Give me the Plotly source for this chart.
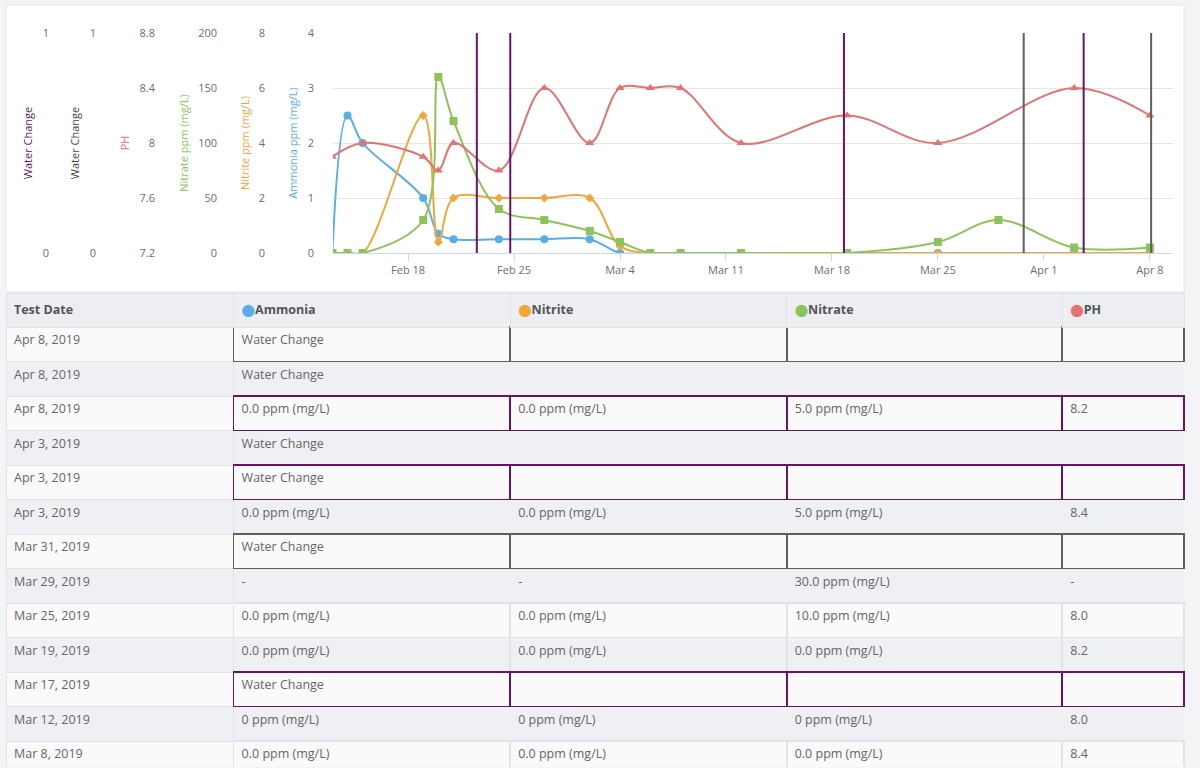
import plotly.graph_objects as go

# ---------------- data ----------------
test_dates = ['2019-02-13', '2019-02-14', '2019-02-15', '2019-02-19', '2019-02-20',
              '2019-02-21', '2019-02-24', '2019-02-27', '2019-03-02', '2019-03-04',
              '2019-03-06', '2019-03-08', '2019-03-12', '2019-03-19', '2019-03-25',
              '2019-03-29', '2019-04-03', '2019-04-08']
ammonia = [0, 2.5, 2.0, 1.0, 0.35, 0.25, 0.25, 0.25, 0.25, 0, 0, 0, 0, 0, 0, None, 0, 0]
nitrite = [0, 0, 0, 5.0, 0.4, 2.0, 2.0, 2.0, 2.0, 0.25, 0, 0, 0, 0, 0, None, 0, 0]
nitrate = [0, 0, 0, 30, 160, 120, 40, 30, 20, 10, 0, 0, 0, 0, 10, 30, 5, 5]
ph = [7.9, None, 8.0, 7.9, 7.8, 8.0, 7.8, 8.4, 8.0, 8.4, 8.4, 8.4, 8.0, 8.2, 8.0, None, 8.4, 8.2]

water_change_purple = ['2019-02-22 13:00', '2019-02-24 18:00', '2019-03-18 19:00', '2019-04-03 15:00']
water_change_grey = ['2019-03-30 16:00', '2019-04-08 02:00']

week_ticks = ['2019-02-18', '2019-02-25', '2019-03-04', '2019-03-11', '2019-03-18',
              '2019-03-25', '2019-04-01', '2019-04-08']

# table
tbl_dates = ['Apr 8, 2019', 'Apr 8, 2019', 'Apr 8, 2019', 'Apr 3, 2019', 'Apr 3, 2019',
             'Apr 3, 2019', 'Mar 31, 2019', 'Mar 29, 2019', 'Mar 25, 2019', 'Mar 19, 2019',
             'Mar 17, 2019', 'Mar 12, 2019', 'Mar 8, 2019']
tbl_ammonia = ['Water Change', 'Water Change', '0.0 ppm (mg/L)', 'Water Change', 'Water Change',
               '0.0 ppm (mg/L)', 'Water Change', '-', '0.0 ppm (mg/L)', '0.0 ppm (mg/L)',
               'Water Change', '0 ppm (mg/L)', '0.0 ppm (mg/L)']
tbl_nitrite = ['', '', '0.0 ppm (mg/L)', '', '', '0.0 ppm (mg/L)', '', '-', '0.0 ppm (mg/L)',
               '0.0 ppm (mg/L)', '', '0 ppm (mg/L)', '0.0 ppm (mg/L)']
tbl_nitrate = ['', '', '5.0 ppm (mg/L)', '', '', '5.0 ppm (mg/L)', '', '30.0 ppm (mg/L)',
               '10.0 ppm (mg/L)', '0.0 ppm (mg/L)', '', '0 ppm (mg/L)', '0.0 ppm (mg/L)']
tbl_ph = ['', '', '8.2', '', '', '8.4', '', '-', '8.0', '8.2', '', '8.0', '8.4']
# border style of each row's measurement cells (None = plain, 'none' = no own border)
row_border = ['grey', 'none', 'purple', 'none', 'purple', 'none', 'grey', 'none',
              None, None, 'purple', 'none', None]

# ---------------- styling ----------------
C_AMM = '#5aaee8'
C_NIT = '#eea73a'
C_NTR = '#8cc35a'
C_PH = '#e37373'
C_PUR = '#661466'
C_GRY = '#5f5f5f'
TICK = '#6e6e6e'
FONT = 'Open Sans'
W, H = 1200, 768

def px(x):
    return x / W

def py(y):
    return 1 - y / H

fig = go.Figure()

fig.add_trace(go.Scatter(x=test_dates, y=ammonia, name='Ammonia', yaxis='y',
                         mode='lines+markers', line=dict(color=C_AMM, width=2, shape='spline', smoothing=1),
                         marker=dict(symbol='circle', size=8, color=C_AMM), connectgaps=True))
fig.add_trace(go.Scatter(x=test_dates, y=nitrite, name='Nitrite', yaxis='y2',
                         mode='lines+markers', line=dict(color=C_NIT, width=2, shape='spline', smoothing=1),
                         marker=dict(symbol='diamond', size=7, color=C_NIT), connectgaps=True))
fig.add_trace(go.Scatter(x=test_dates, y=nitrate, name='Nitrate', yaxis='y3',
                         mode='lines+markers', line=dict(color=C_NTR, width=2, shape='spline', smoothing=1),
                         marker=dict(symbol='square', size=8, color=C_NTR), connectgaps=True))
fig.add_trace(go.Scatter(x=test_dates, y=ph, name='PH', yaxis='y4',
                         mode='lines+markers', line=dict(color=C_PH, width=2, shape='spline', smoothing=1),
                         marker=dict(symbol='triangle-up', size=8, color=C_PH), connectgaps=True))

def vlines(dates):
    xs, ys = [], []
    for d in dates:
        xs += [d, d, None]
        ys += [0, 1, None]
    return xs, ys

gx, gy = vlines(water_change_grey)
fig.add_trace(go.Scatter(x=gx, y=gy, yaxis='y5', mode='lines', name='Water Change',
                         line=dict(color=C_GRY, width=2)))
ppx, ppy = vlines(water_change_purple)
fig.add_trace(go.Scatter(x=ppx, y=ppy, yaxis='y6', mode='lines', name='Water Change',
                         line=dict(color=C_PUR, width=2)))

# ---------------- table ----------------
LIGHT = '#e2e3e7'
cmap = {'grey': C_GRY, 'purple': C_PUR, None: LIGHT, 'none': 'rgba(0,0,0,0)'}
border = [cmap[k] for k in row_border]
fills = ['#fafafa' if i % 2 == 0 else '#eff0f3' for i in range(len(tbl_dates))]

def dot(c, t):
    return f'<span style="color:{c};font-family:DejaVu Sans;font-size:12px">⬤</span><b>{t}</b><br>'

fig.add_trace(go.Table(
    domain=dict(x=[px(6), px(1184)], y=[0, py(293)]),
    columnwidth=[228, 277, 277, 276, 122],
    header=dict(values=['<b>Test Date</b><br>', dot(C_AMM, 'Ammonia'), dot(C_NIT, 'Nitrite'),
                        dot(C_NTR, 'Nitrate'), dot(C_PH, 'PH')],
                fill_color='#eceef1', line_color=LIGHT, align='left', height=34,
                font=dict(family=FONT, size=12.5, color='#555')),
    cells=dict(values=[tbl_dates, tbl_ammonia, tbl_nitrite, tbl_nitrate, tbl_ph],
               fill_color=[fills] * 5,
               line=dict(color=[[LIGHT] * len(tbl_dates)] + [border] * 4,
                         width=[1, 1.7, 1.7, 1.7, 1.7]),
               align='left', height=34.5,
               font=dict(family=FONT, size=12.5, color='#666'))
))

# ---------------- layout ----------------
ydom = [py(253), py(33)]
tickfont = dict(family=FONT, size=11, color=TICK)

def yax(title, color, rng, pos, **kw):
    d = dict(domain=ydom, range=rng, anchor='free', position=pos, automargin=False,
             title=dict(text=title, font=dict(family=FONT, size=11, color=color), standoff=6),
             tickfont=tickfont, showline=False, zeroline=False, showgrid=False, ticks='')
    d.update(kw)
    return d

fig.update_layout(
    width=W, height=H,
    margin=dict(l=0, r=0, t=0, b=0, autoexpand=False),
    paper_bgcolor='#f3f4f6', plot_bgcolor='rgba(0,0,0,0)',
    showlegend=False,
    font=dict(family=FONT),
    xaxis=dict(domain=[px(333), px(1173)], anchor='y', type='date', automargin=False,
               range=['2019-02-13 01:00', '2019-04-09 12:40'],
               tickvals=week_ticks, tickformat='%b %-d', tickfont=tickfont,
               showgrid=False, showline=True, linecolor='#ccd6eb', linewidth=1,
               ticks='outside', ticklen=7, tickcolor='#ccd6eb', zeroline=False),
    yaxis=yax('Ammonia ppm (mg/L)', C_AMM, [0, 4], px(333), dtick=1, showgrid=True,
              gridcolor='#e6e6e6', ticklabelstandoff=19),
    yaxis2=yax('Nitrite ppm (mg/L)', C_NIT, [0, 8], px(265), dtick=2, overlaying='y',
               title_standoff=5),
    yaxis3=yax('Nitrate ppm (mg/L)', C_NTR, [0, 200], px(217), dtick=50, overlaying='y'),
    yaxis4=yax('PH', C_PH, [7.2, 8.8], px(155), dtick=0.4, overlaying='y'),
    yaxis5=yax('Water Change', '#444', [0, 1], px(96), tickvals=[0, 1], overlaying='y'),
    yaxis6=yax('Water Change', C_PUR, [0, 1], px(49), tickvals=[0, 1], overlaying='y'),
    shapes=[dict(type='rect', xref='paper', yref='paper', x0=px(6), x1=px(1184),
                 y0=py(292), y1=py(5), fillcolor='white', line=dict(color='#e4e5e8', width=1),
                 layer='below')],
)

fig.write_html('out.html')
